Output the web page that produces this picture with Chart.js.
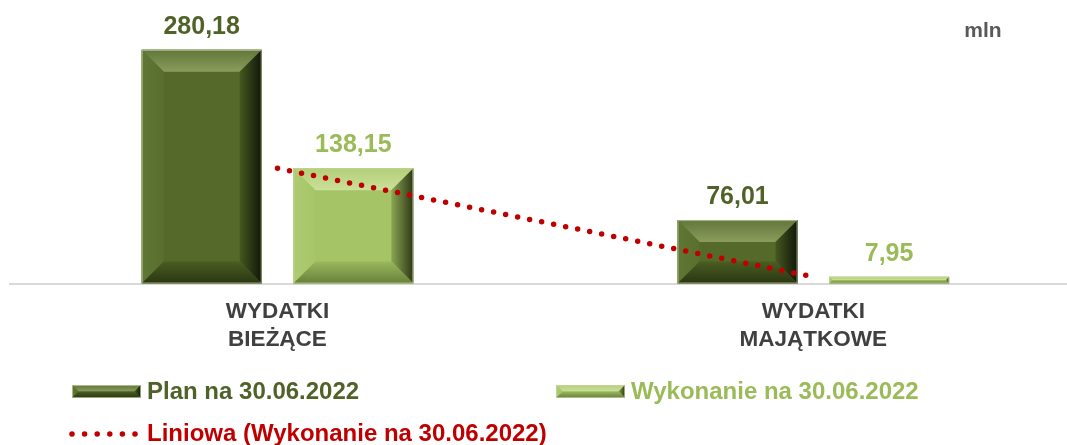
<!DOCTYPE html>
<html>
<head>
<meta charset="utf-8">
<script src="https://cdn.jsdelivr.net/npm/chart.js@4.4.1/dist/chart.umd.min.js"></script>
<style>
  html, body { margin: 0; padding: 0; background: #fff; overflow: hidden; }
  #wrap { position: relative; width: 1082px; height: 445px; }
</style>
</head>
<body>
<div id="wrap"><canvas id="wydatki"></canvas></div>
<script>
// dane (mln zł)
const categories = [['WYDATKI', 'BIEŻĄCE'], ['WYDATKI', 'MAJĄTKOWE']];
const planValues = [280.18, 76.01];
const wykonanieValues = [138.15, 7.95];
const trendValues = [138.15, 7.95];
const seriesNames = ['Plan na 30.06.2022', 'Wykonanie na 30.06.2022', 'Liniowa (Wykonanie na 30.06.2022)'];
const unitLabel = 'mln';

const FONT = "'Liberation Sans', Arial, sans-serif";
const TREND_COLOR = '#c00000';

// kolory "fazowanych" słupków
const PLAN_STYLE = {
    face: '#55692b', text: '#4f6228',
    top: ['#61763a', '#8a9d5c'], left: ['#5f7634', '#5a6f2e'],
    right: ['#46581f', '#10160a'], bottom: ['#4a5d22', '#2a3612'],
};
const WYK_STYLE = {
    face: '#a5c466', text: '#9bbb59',
    top: ['#b3cf77', '#cbe09a'], left: ['#adcb6f', '#a7c669'],
    right: ['#8aa653', '#2e3616'], bottom: ['#9ab85c', '#66803a'],
};

const fmt = v => v.toFixed(2).replace('.', ',');

// ── rysowanie fazowania ───────────────────────────────────────────────────

function poly(ctx, pts, fill) {
    ctx.beginPath();
    ctx.moveTo(pts[0][0], pts[0][1]);
    for (let i = 1; i < pts.length; i++) ctx.lineTo(pts[i][0], pts[i][1]);
    ctx.closePath();
    ctx.fillStyle = fill;
    ctx.fill();
}

function grad(ctx, x0, y0, x1, y1, stops) {
    const g = ctx.createLinearGradient(x0, y0, x1, y1);
    g.addColorStop(0, stops[0]);
    g.addColorStop(1, stops[1]);
    return g;
}

function bevelBar(ctx, x0, y0, x1, y1, st, size) {
    const w = x1 - x0, h = y1 - y0;
    if (w <= 0 || h <= 0) return;
    const b = Math.min(size, w / 2, h / 2);
    ctx.save();
    ctx.fillStyle = st.face;
    ctx.fillRect(x0, y0, w, h);
    poly(ctx, [[x0, y0], [x1, y0], [x1 - b, y0 + b], [x0 + b, y0 + b]], grad(ctx, 0, y0, 0, y0 + b, st.top));
    poly(ctx, [[x0, y0], [x0 + b, y0 + b], [x0 + b, y1 - b], [x0, y1]], grad(ctx, x0, 0, x0 + b, 0, st.left));
    poly(ctx, [[x1, y0], [x1, y1], [x1 - b, y1 - b], [x1 - b, y0 + b]], grad(ctx, x1 - b, 0, x1, 0, st.right));
    poly(ctx, [[x0, y1], [x0 + b, y1 - b], [x1 - b, y1 - b], [x1, y1]], grad(ctx, 0, y1 - b, 0, y1, st.bottom));
    ctx.strokeStyle = 'rgba(200,214,170,0.7)';
    ctx.lineWidth = 1;
    ctx.strokeRect(x0 + 0.5, y0 + 0.5, w - 1, h - 1);
    ctx.restore();
}

const barStyles = { 1: PLAN_STYLE, 2: WYK_STYLE };

const bevelPlugin = {
    id: 'bevel',
    afterDatasetDraw(chart, args) {
        const st = barStyles[args.index];
        if (!st) return;
        const ctx = chart.ctx;
        args.meta.data.forEach(el => {
            const top = Math.min(el.y, el.base), bottom = Math.max(el.y, el.base);
            bevelBar(ctx, el.x - el.width / 2, top, el.x + el.width / 2, bottom, st, 22);
        });
    },
};

// ── etykiety wartości, jednostka i legenda ───────────────────────────────

const labelsPlugin = {
    id: 'valueLabels',
    afterDatasetsDraw(chart) {
        const ctx = chart.ctx;
        ctx.save();
        ctx.font = `bold 25px ${FONT}`;
        ctx.textAlign = 'center';
        ctx.textBaseline = 'alphabetic';
        [1, 2].forEach(i => {
            const meta = chart.getDatasetMeta(i);
            const vals = chart.data.datasets[i].data;
            ctx.fillStyle = barStyles[i].text;
            meta.data.forEach((el, j) => {
                ctx.fillText(fmt(vals[j]), el.x, Math.min(el.y, el.base) - 16);
            });
        });
        // jednostka
        ctx.font = `bold 21px ${FONT}`;
        ctx.fillStyle = '#595959';
        ctx.fillText(unitLabel, 983, 37);
        ctx.restore();
    },
};

const legendPlugin = {
    id: 'ownLegend',
    afterDraw(chart) {
        const ctx = chart.ctx;
        ctx.save();
        ctx.font = `bold 24px ${FONT}`;
        ctx.textAlign = 'left';
        ctx.textBaseline = 'alphabetic';

        bevelBar(ctx, 72, 385, 141, 398, PLAN_STYLE, 6.5);
        ctx.fillStyle = PLAN_STYLE.text;
        ctx.fillText(seriesNames[0], 147, 399);

        bevelBar(ctx, 556, 385, 625, 398, WYK_STYLE, 6.5);
        ctx.fillStyle = WYK_STYLE.text;
        ctx.fillText(seriesNames[1], 631, 399);

        ctx.beginPath();
        ctx.strokeStyle = TREND_COLOR;
        ctx.lineWidth = 5.5;
        ctx.lineCap = 'round';
        ctx.setLineDash([0, 12.6]);
        ctx.moveTo(72, 434);
        ctx.lineTo(136, 434);
        ctx.stroke();
        ctx.setLineDash([]);
        ctx.fillStyle = TREND_COLOR;
        ctx.fillText(seriesNames[2], 147, 441);
        ctx.restore();
    },
};

// ── wykres ────────────────────────────────────────────────────────────────

new Chart(document.getElementById('wydatki'), {
    data: {
        labels: categories,
        datasets: [
            {
                type: 'line',
                label: seriesNames[2],
                data: trendValues,
                borderColor: TREND_COLOR,
                borderWidth: 5.5,
                borderDash: [0, 12.25],
                borderCapStyle: 'round',
                pointRadius: 0,
                fill: false,
                order: 0,
            },
            {
                type: 'bar',
                label: seriesNames[0],
                data: planValues,
                backgroundColor: PLAN_STYLE.face,
                barPercentage: 0.7916,
                categoryPercentage: 0.5659,
                order: 1,
            },
            {
                type: 'bar',
                label: seriesNames[1],
                data: wykonanieValues,
                backgroundColor: WYK_STYLE.face,
                barPercentage: 0.7916,
                categoryPercentage: 0.5659,
                order: 2,
            },
        ],
    },
    options: {
        responsive: true,
        maintainAspectRatio: false,
        animation: false,
        events: [],
        layout: { padding: { left: 9.6, right: 0.8, top: 33.3, bottom: 0 } },
        plugins: { legend: { display: false }, tooltip: { enabled: false } },
        scales: {
            x: {
                grid: { display: false, drawTicks: false },
                border: { display: true, color: '#d9d9d9', width: 2 },
                ticks: {
                    font: { family: FONT, size: 22.5, weight: 'bold', lineHeight: 1.22 },
                    color: '#404040',
                    padding: 15,
                    maxRotation: 0,
                    autoSkip: false,
                },
                afterFit: s => { s.height = 445 - 283.5; },
            },
            y: { display: false, min: 0, max: 300 },
        },
    },
    plugins: [bevelPlugin, labelsPlugin, legendPlugin],
});
</script>
</body>
</html>
